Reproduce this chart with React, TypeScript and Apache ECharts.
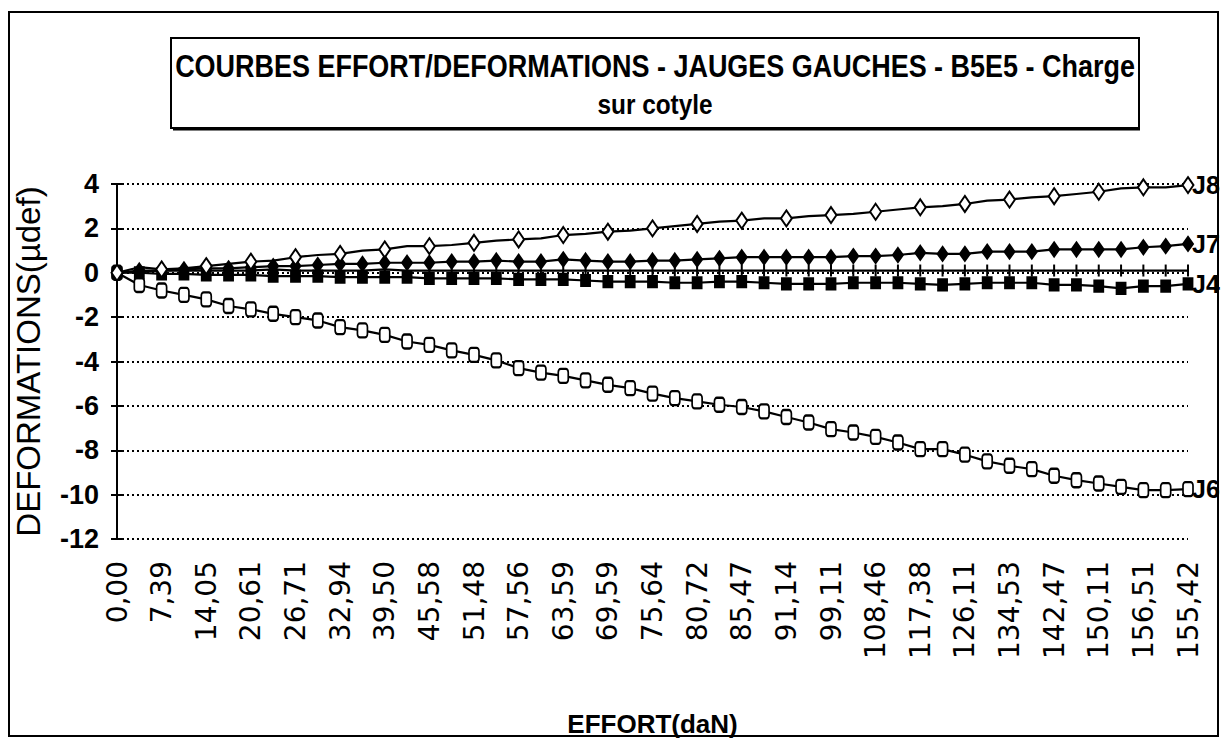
import React, { useEffect, useRef } from 'react';
import * as echarts from 'echarts';

const effort = ['0,00','3,70','7,39','10,72','14,05','17,33','20,61','23,66','26,71','29,83','32,94','36,22','39,50','42,54','45,58','48,53','51,48','54,52','57,56','60,58','63,59','66,59','69,59','72,62','75,64','78,18','80,72','83,10','85,47','88,31','91,14','95,13','99,11','103,79','108,46','112,92','117,38','121,75','126,11','130,32','134,53','138,50','142,47','146,29','150,11','153,31','156,51','155,96','155,42'];

const j8 = [0, 0.25, 0.15, 0.2, 0.3, 0.4, 0.5, 0.55, 0.7, 0.8, 0.85, 1.0, 1.05, 1.2, 1.2, 1.25, 1.35, 1.45, 1.5, 1.55, 1.7, 1.75, 1.85, 1.9, 2.0, 2.1, 2.2, 2.3, 2.35, 2.45, 2.45, 2.55, 2.6, 2.65, 2.75, 2.85, 2.95, 3.0, 3.1, 3.25, 3.3, 3.4, 3.45, 3.55, 3.65, 3.8, 3.85, 3.85, 3.95];
const j7 = [0, 0.1, 0.1, 0.15, 0.2, 0.2, 0.25, 0.3, 0.3, 0.35, 0.4, 0.4, 0.45, 0.45, 0.45, 0.5, 0.5, 0.55, 0.5, 0.5, 0.6, 0.55, 0.5, 0.5, 0.55, 0.55, 0.6, 0.65, 0.7, 0.7, 0.7, 0.7, 0.7, 0.75, 0.75, 0.8, 0.9, 0.85, 0.85, 0.95, 0.95, 0.95, 1.05, 1.05, 1.05, 1.05, 1.15, 1.2, 1.3];
const j5 = [0, 0.05, 0.1, 0.1, 0.1, 0.1, 0.1, 0.15, 0.1, 0.1, 0.1, 0.1, 0.15, 0.1, 0.1, 0.1, 0.1, 0.1, 0.1, 0.1, 0.1, 0.1, 0.1, 0.1, 0.1, 0.1, 0.1, 0.1, 0.1, 0.1, 0.1, 0.1, 0.1, 0.1, 0.1, 0.1, 0.1, 0.1, 0.1, 0.1, 0.1, 0.1, 0.1, 0.1, 0.1, 0.1, 0.1, 0.1, 0.1];
const j4 = [0, 0, -0.05, -0.05, -0.1, -0.1, -0.1, -0.15, -0.15, -0.15, -0.2, -0.2, -0.2, -0.2, -0.25, -0.25, -0.25, -0.25, -0.3, -0.3, -0.3, -0.35, -0.4, -0.4, -0.4, -0.45, -0.45, -0.4, -0.4, -0.45, -0.5, -0.5, -0.5, -0.45, -0.45, -0.45, -0.5, -0.55, -0.5, -0.45, -0.45, -0.45, -0.55, -0.55, -0.6, -0.7, -0.6, -0.6, -0.5];
const j6 = [0, -0.55, -0.8, -1.0, -1.2, -1.5, -1.65, -1.85, -2.0, -2.15, -2.45, -2.6, -2.8, -3.1, -3.25, -3.5, -3.7, -3.95, -4.3, -4.5, -4.65, -4.85, -5.05, -5.2, -5.45, -5.65, -5.8, -5.95, -6.05, -6.25, -6.5, -6.75, -7.05, -7.2, -7.4, -7.65, -7.95, -7.95, -8.2, -8.5, -8.7, -8.85, -9.15, -9.35, -9.5, -9.65, -9.8, -9.8, -9.75];

const titleLine1 = 'COURBES EFFORT/DEFORMATIONS - JAUGES GAUCHES - B5E5 - Charge';
const titleLine2 = 'sur cotyle';
const yName = 'DEFORMATIONS(\u00b5def)';
const xName = 'EFFORT(daN)';

const BOLDF = "'Liberation Sans', Arial, sans-serif";
const PLAIN = "'Liberation Sans', Arial, sans-serif";

export default function App() {
  const ref = useRef<HTMLDivElement>(null);
  useEffect(() => {
    if (!ref.current) return;
    const chart = echarts.init(ref.current, null, { renderer: 'svg' });
    const endLabel = (name: string) => ({
      show: true,
      formatter: name,
      color: '#000',
      fontFamily: BOLDF,
      fontWeight: 'bold',
      fontSize: 25,
      distance: 4,
    });
    const base = {
      type: 'line',
      lineStyle: { color: '#000', width: 2.2 },
      itemStyle: { color: '#000', borderColor: '#000', borderWidth: 2 },
      showSymbol: true,
      emphasis: { disabled: true },
      z: 3,
    };
    chart.setOption({
      animation: false,
      backgroundColor: '#fff',
      grid: { left: 117, right: 36, top: 184, bottom: 196, containLabel: false },
      xAxis: {
        type: 'category',
        data: effort,
        boundaryGap: false,
        name: xName,
        nameLocation: 'middle',
        nameGap: 172,
        nameTextStyle: { fontFamily: BOLDF, fontWeight: 'bold', fontSize: 26, color: '#000' },
        axisLine: { show: false },
        axisTick: { show: false },
        axisLabel: {
          interval: 1,
          rotate: 90,
          margin: 22,
          color: '#000',
          fontFamily: "'DejaVu Sans', sans-serif",
          fontSize: 28,
        },
        splitLine: { show: false },
      },
      yAxis: [
        {
          type: 'value',
          min: -12,
          max: 4,
          interval: 2,
          name: yName,
          nameLocation: 'middle',
          nameGap: 72,
          nameTextStyle: { fontFamily: PLAIN, fontSize: 33, color: '#000' },
          axisLine: { show: true, lineStyle: { color: '#000', width: 2 } },
          axisTick: { show: true, length: 6, lineStyle: { color: '#000', width: 2 } },
          axisLabel: {
            color: '#000',
            fontFamily: BOLDF,
            fontWeight: 'bold',
            fontSize: 27,
            margin: 18,
          },
          splitLine: { show: true, lineStyle: { color: '#000', width: 2, type: [2, 3] } },
        },
        {
          type: 'value',
          min: -12,
          max: 4,
          interval: 2,
          position: 'left',
          axisLine: { show: false },
          axisTick: { show: true, inside: true, length: 5, lineStyle: { color: '#000', width: 2 } },
          axisLabel: { show: false },
          splitLine: { show: false },
        },
      ],
      graphic: [
        {
          type: 'rect',
          shape: { x: 9, y: 12, width: 1209, height: 724 },
          style: { fill: 'none', stroke: '#000', lineWidth: 2 },
          z: 0,
        },
        {
          type: 'rect',
          shape: { x: 171, y: 38, width: 968, height: 90 },
          style: { fill: '#fff', stroke: '#000', lineWidth: 2 },
          z: 1,
        },
        {
          type: 'line',
          shape: { x1: 173, y1: 129.5, x2: 1140, y2: 129.5 },
          style: { stroke: '#000', lineWidth: 2 },
          z: 1,
        },
        {
          type: 'text',
          x: 655,
          y: 66,
          scaleX: 0.87,
          style: {
            text: titleLine1,
            fill: '#000',
            font: `bold 31px ${BOLDF}`,
            align: 'center',
            verticalAlign: 'middle',
          },
          z: 2,
        },
        {
          type: 'text',
          x: 655,
          y: 104,
          scaleX: 0.87,
          style: {
            text: titleLine2,
            fill: '#000',
            font: `bold 28px ${BOLDF}`,
            align: 'center',
            verticalAlign: 'middle',
          },
          z: 2,
        },
      ],
      series: [
        {
          ...base,
          name: 'J6',
          data: j6,
          symbol: 'roundRect',
          symbolSize: [10, 14],
          itemStyle: { color: '#fff', borderColor: '#000', borderWidth: 2 },
          endLabel: endLabel('J6'),
        },
        {
          ...base,
          name: 'J4',
          data: j4,
          symbol: 'rect',
          symbolSize: [9, 11],
          endLabel: endLabel('J4'),
        },
        {
          ...base,
          name: 'J5',
          data: j5,
          symbol: 'rect',
          symbolSize: [2, 12],
          itemStyle: { color: '#000', borderWidth: 0 },
        },
        {
          ...base,
          name: 'J7',
          data: j7,
          symbol: 'diamond',
          symbolSize: [10, 14],
          endLabel: endLabel('J7'),
        },
        {
          ...base,
          name: 'J8',
          data: j8,
          symbol: 'diamond',
          symbolSize: [11, 16],
          itemStyle: { color: '#fff', borderColor: '#000', borderWidth: 2 },
          endLabel: endLabel('J8'),
        },
      ],
    });
    return () => chart.dispose();
  }, []);
  return (
    <div
      ref={ref}
      style={{ position: 'fixed', left: 0, top: 0, width: 1224, height: 738, background: '#fff' }}
    />
  );
}
